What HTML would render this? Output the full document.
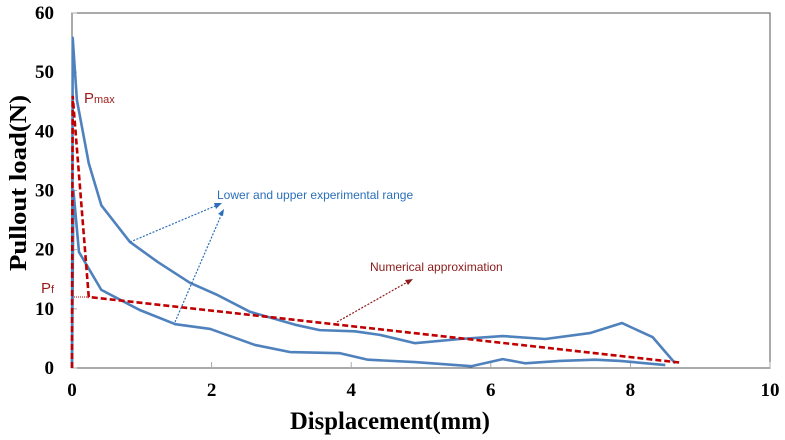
<!DOCTYPE html>
<html><head><meta charset="utf-8"><style>
body{margin:0;background:#fff}
svg{display:block}
.tk{font-family:"Liberation Serif",serif;font-weight:bold;font-size:19px;fill:#000}
</style></head><body>
<svg id="chart" width="785" height="440" xmlns="http://www.w3.org/2000/svg">
<rect x="72" y="13" width="698" height="355" fill="none" stroke="#555" stroke-width="1"/>
<g id="axes"></g>
<g id="series"></g>
<text x="390" y="429" text-anchor="middle" font-family="Liberation Serif,serif" font-weight="bold" font-size="25" textLength="200" lengthAdjust="spacingAndGlyphs">Displacement(mm)</text>
<text transform="translate(26,183) rotate(-90)" text-anchor="middle" font-family="Liberation Serif,serif" font-weight="bold" font-size="24" textLength="176" lengthAdjust="spacingAndGlyphs">Pullout load(N)</text>
<text x="84" y="103" font-family="Liberation Sans,sans-serif" font-size="15" fill="#9b1b1b">P<tspan font-size="11">max</tspan></text>
<text x="41" y="293" font-family="Liberation Sans,sans-serif" font-size="15" fill="#9b1b1b">P<tspan font-size="11">f</tspan></text>
<text x="217" y="199" font-family="Liberation Sans,sans-serif" font-size="12" fill="#2a6fb8">Lower and upper experimental range</text>
<text x="370" y="271" font-family="Liberation Sans,sans-serif" font-size="12" fill="#8b1a1a">Numerical approximation</text>
<g stroke-dasharray="2,1.5" stroke-width="1.2">
<line x1="130" y1="242" x2="220" y2="204" stroke="#2a6fb8"/>
<line x1="175" y1="322" x2="223" y2="211" stroke="#2a6fb8"/>
<line x1="337" y1="322" x2="411" y2="280" stroke="#8b1a1a"/>
</g>
<polygon points="222,203 214,203 216,209" fill="#2a6fb8"/>
<polygon points="224,209 218,214 223,216" fill="#2a6fb8"/>
<polygon points="413,279 405,280 408,285" fill="#8b1a1a"/>
</svg>
<script>
const xTicks=[0,2,4,6,8,10];
const yTicks=[0,10,20,30,40,50,60];
const upperX=[0,0.01,0.07,0.24,0.42,0.83,1.23,1.69,2.09,2.55,3.2,3.55,4.05,4.41,4.91,5.56,6.17,6.78,7.42,7.88,8.32,8.64];
const upperY=[0,55.8,45.3,34.6,27.5,21.3,17.9,14.4,12.3,9.5,7.3,6.4,6.2,5.6,4.2,4.9,5.4,4.9,5.9,7.6,5.2,0.8];
const lowerX=[0,0.02,0.1,0.42,0.97,1.48,1.98,2.62,3.12,3.84,4.24,4.91,5.72,6.17,6.49,6.99,7.49,7.85,8.5];
const lowerY=[0,30,19.6,13.2,9.8,7.4,6.6,3.9,2.7,2.5,1.4,1.0,0.3,1.5,0.8,1.2,1.4,1.2,0.5];
const numX=[0,0.01,0.24,8.72];
const numY=[0,46,12,0.9];
const pfX=[0,0.24], pfY=[12,12];
const X=v=>72+v*69.8, Y=v=>368-v*355/60;
const NS="http://www.w3.org/2000/svg";
const axes=document.getElementById('axes'), ser=document.getElementById('series');
function mk(tag,attrs,parent){const e=document.createElementNS(NS,tag);for(const k in attrs)e.setAttribute(k,attrs[k]);parent.appendChild(e);return e;}
xTicks.forEach(t=>{
 const l=mk('line',{x1:X(t),x2:X(t),y1:368,y2:362,stroke:'#aaa'},axes);
 
 
 const tx=mk('text',{x:X(t),y:396,'text-anchor':'middle',class:'tk'},axes);tx.textContent=t;
 
 
});
yTicks.forEach(t=>{
 const l=mk('line',{x1:72,x2:77,y1:Y(t),y2:Y(t),stroke:'#aaa'},axes);
 
 
 const tx=mk('text',{x:54,y:Y(t)+6,'text-anchor':'end',class:'tk'},axes);tx.textContent=t;
 
 
});
function line(xs,ys,style,name){
 const p=mk('polyline',Object.assign({points:xs.map((x,i)=>X(x)+','+Y(ys[i])).join(' '),fill:'none'},style),ser);
 
 
}
line(upperX,upperY,{stroke:'#4f81bd','stroke-width':2.6,'stroke-linejoin':'round'},'upper-experimental-curve');
line(lowerX,lowerY,{stroke:'#4f81bd','stroke-width':2.6,'stroke-linejoin':'round'},'lower-experimental-curve');
line(pfX,pfY,{stroke:'#c00000','stroke-width':1,'stroke-dasharray':'1,1'},'pf-guide-line');
line(numX,numY,{stroke:'#c00000','stroke-width':2.6,'stroke-dasharray':'6,3'},'numerical-approximation-line');
</script>
</body></html>
